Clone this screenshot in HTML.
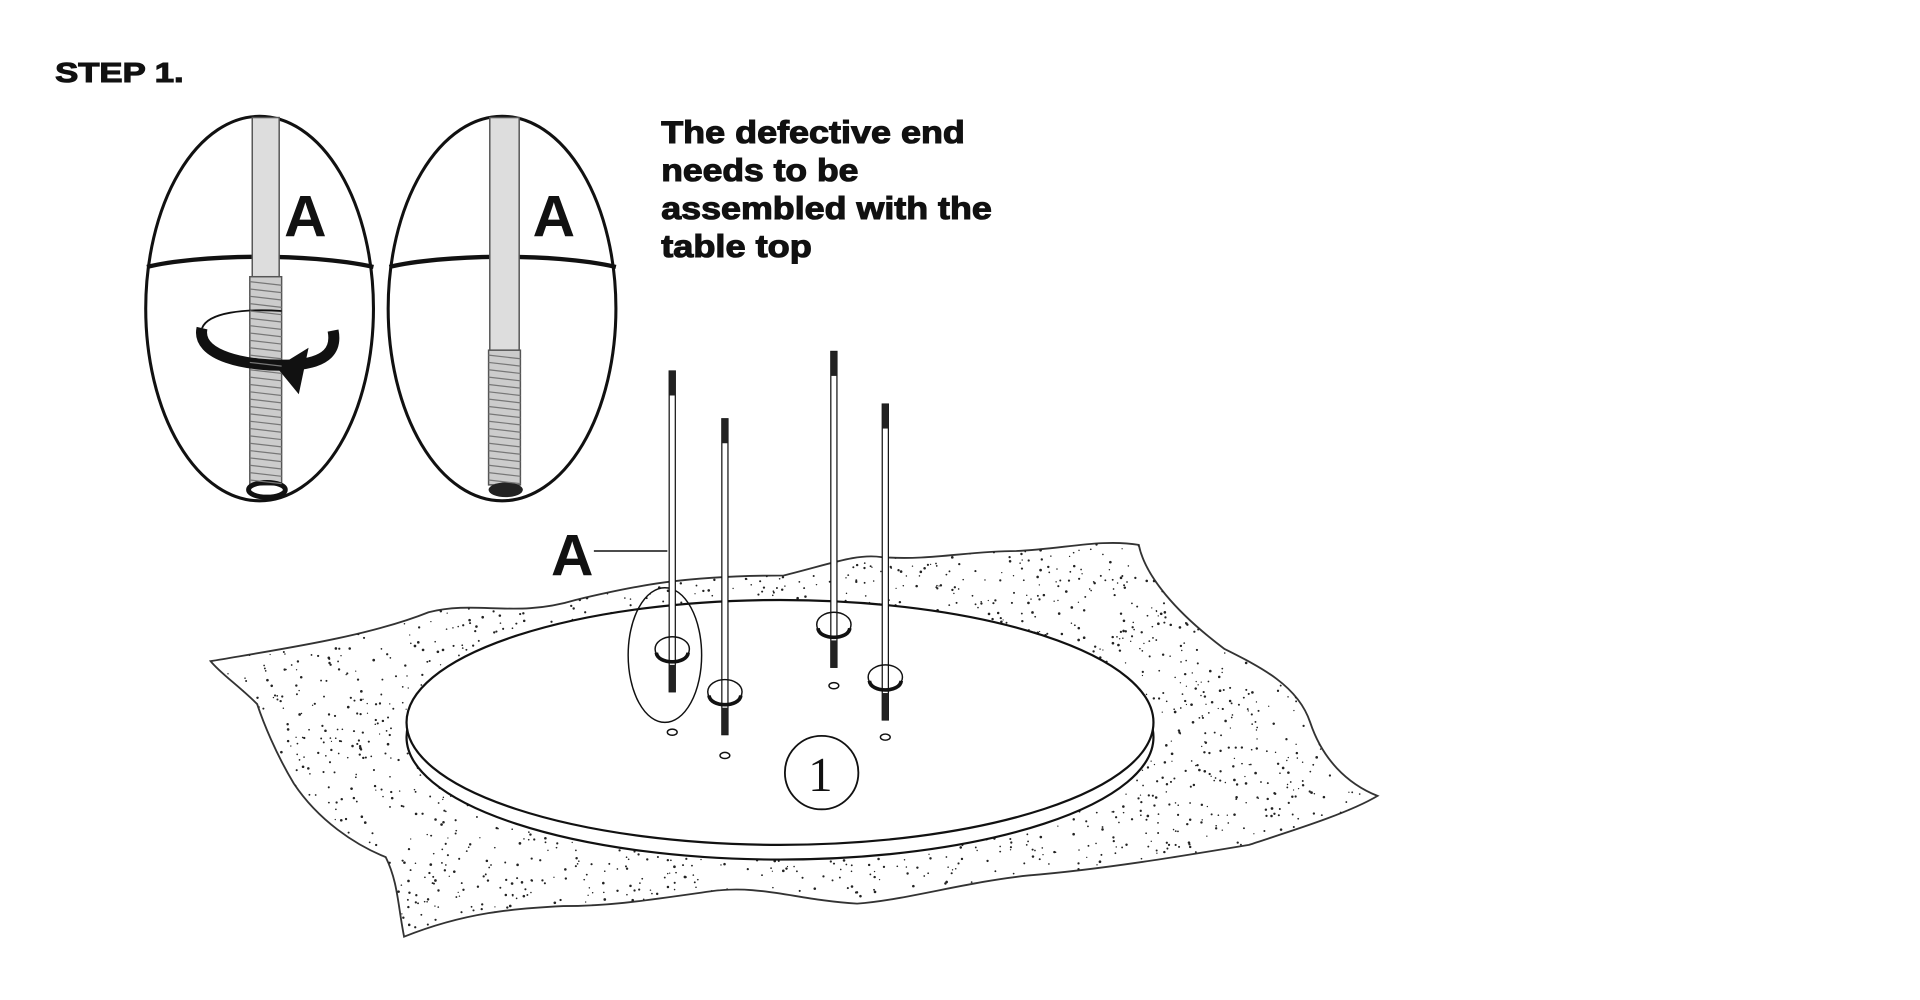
<!DOCTYPE html>
<html><head><meta charset="utf-8"><style>
html,body{margin:0;padding:0;background:#fff;width:1920px;height:1000px;overflow:hidden}
svg{display:block}
text{font-family:"Liberation Sans",Arial,sans-serif;font-weight:bold;fill:#111}
.hv{stroke:#111;stroke-width:0.9}
</style></head><body>
<svg id="s" width="1920" height="1000" viewBox="0 0 1568 816.7" preserveAspectRatio="none">
<defs>
<clipPath id="carpet"><path id="cp" d="M172,540 C230,530 300,520 350,500 C390,490 420,505 470,490 C520,478 560,470 640,470 C680,460 700,452 720,455 C760,458 790,450 830,450 C870,448 900,440 930,445 C935,470 960,500 1000,530 C1030,545 1060,560 1070,590 C1080,620 1100,640 1125,650 C1100,665 1050,680 1020,690 C960,700 900,710 840,715 C790,720 740,735 700,738 C650,735 620,722 580,728 C530,735 500,740 460,740 C420,742 380,745 330,765 C325,740 325,720 315,700 C290,690 260,670 240,640 C225,615 215,590 210,575 C195,560 180,550 172,540 Z"/></clipPath>
</defs>
<rect width="1568" height="817" fill="#fff"/>
<text class="hv" x="45" y="67" font-size="23" textLength="105" lengthAdjust="spacingAndGlyphs">STEP 1.</text>
<text class="hv" font-size="26" x="540" y="117" textLength="248" lengthAdjust="spacingAndGlyphs">The defective end</text>
<text class="hv" font-size="26" x="540" y="148" textLength="161" lengthAdjust="spacingAndGlyphs">needs to be</text>
<text class="hv" font-size="26" x="540" y="179" textLength="270" lengthAdjust="spacingAndGlyphs">assembled with the</text>
<text class="hv" font-size="26" x="540" y="210" textLength="123" lengthAdjust="spacingAndGlyphs">table top</text>

<g stroke="#111" fill="none">
<ellipse cx="212" cy="252" rx="93" ry="157" stroke-width="2.5"/>
<ellipse cx="410" cy="252" rx="93" ry="157" stroke-width="2.5"/>
<path d="M120,218 C160,208 250,206 305,218" stroke-width="3.5"/>
<path d="M318,218 C360,208 450,206 503,218" stroke-width="3.5"/>
</g>
<g stroke="#555" stroke-width="1.2">
<rect x="206" y="96" width="22" height="130" fill="#ddd"/>
<rect x="204" y="226" width="26" height="170" fill="#ccc"/>
<rect x="400" y="96" width="24" height="190" fill="#ddd"/>
<rect x="399" y="286" width="26" height="110" fill="#ccc"/>
</g>
<ellipse cx="218" cy="400" rx="15" ry="6" fill="none" stroke="#111" stroke-width="4"/>
<ellipse cx="413" cy="400" rx="14" ry="6" fill="#222"/>
<path d="M165,268 C160,290 200,300 240,298 C268,296 275,285 272,270" fill="none" stroke="#111" stroke-width="9"/>
<path d="M165,268 C170,255 200,252 230,254" fill="none" stroke="#111" stroke-width="1.5"/>
<path d="M252,284 L226,300 L244,322 Z" fill="#111"/>
<text x="232" y="193" font-size="48">A</text>
<text x="435" y="193" font-size="48">A</text>

<use href="#cp" fill="#fff" stroke="#333" stroke-width="1.5"/>
<g id="dots" clip-path="url(#carpet)" fill="#222"></g>

<ellipse cx="637" cy="602" rx="305" ry="100" fill="#fff" stroke="#111" stroke-width="1.8"/>
<ellipse cx="637" cy="590" rx="305" ry="100" fill="#fff" stroke="#111" stroke-width="1.8"/>

<g fill="none" stroke="#111" stroke-width="1.2">
<ellipse cx="549" cy="598" rx="4" ry="2.5"/><ellipse cx="681" cy="560" rx="4" ry="2.5"/>
<ellipse cx="723" cy="602" rx="4" ry="2.5"/><ellipse cx="592" cy="617" rx="4" ry="2.5"/>
<ellipse cx="543" cy="535" rx="30" ry="55"/>
<circle cx="671" cy="631" r="30" stroke-width="1.5"/>
<path d="M485,450 L545,450"/>
</g>
<text x="670" y="646" font-size="40" text-anchor="middle" style="font-weight:normal;font-family:'Liberation Serif',serif">1</text>
<text x="450" y="470" font-size="48">A</text>

<g id="rods"></g>
</svg>
<script>
var ns="http://www.w3.org/2000/svg";
function el(t,a,p){var e=document.createElementNS(ns,t);for(var k in a)e.setAttribute(k,a[k]);p.appendChild(e);return e;}
var seed=7;function r(){seed=(seed*16807)%2147483647;return seed/2147483647;}
var d=document.getElementById('dots');
for(var i=0;i<3600;i++){var x=170+r()*960,y=440+r()*330;
 var dx=(x-637)/305,dy=(y-596)/106; if(dx*dx+dy*dy<1)continue;
 el('circle',{cx:x.toFixed(1),cy:y.toFixed(1),r:(0.5+r()*0.6).toFixed(2)},d);}
var s=document.getElementById('s');
for(var y=230;y<395;y+=6){el('line',{x1:204,y1:y,x2:230,y2:y+3,stroke:'#777','stroke-width':1},s);}
for(var y=290;y<395;y+=6){el('line',{x1:399,y1:y,x2:425,y2:y+3,stroke:'#777','stroke-width':1},s);}
var rods=document.getElementById('rods');
[[549,303,565],[592,342,600],[681,287,545],[723,330,588]].forEach(function(a){
 var x=a[0];
 el('rect',{x:x-2.5,y:a[1],width:5,height:a[2]-a[1],fill:'#fff',stroke:'#111','stroke-width':1},rods);
 el('rect',{x:x-2.5,y:a[1],width:5,height:20,fill:'#222'},rods);
 el('rect',{x:x-2.5,y:a[2]-22,width:5,height:22,fill:'#222'},rods);
 el('ellipse',{cx:x,cy:a[2]-35,rx:14,ry:10,fill:'none',stroke:'#111','stroke-width':1.2},rods);
 el('path',{d:'M'+(x-13)+','+(a[2]-32)+' C'+(x-12)+','+(a[2]-22)+' '+(x+12)+','+(a[2]-22)+' '+(x+13)+','+(a[2]-32),fill:'none',stroke:'#111','stroke-width':3},rods);
});
</script>
</body></html>
